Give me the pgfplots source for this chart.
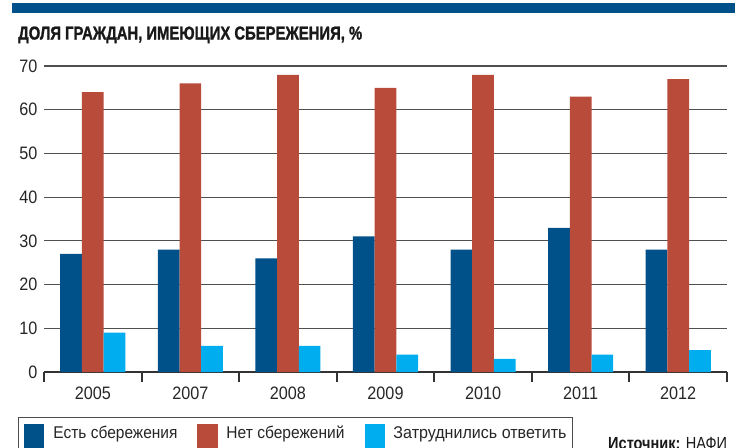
\documentclass[border=0pt]{standalone}
\usepackage{pgfplots}
\pgfplotsset{compat=1.18}
\usepackage{fontspec}
\setmainfont{Liberation Sans}
\newfontfamily\condfont[FakeStretch=0.9]{Liberation Sans}
\newfontfamily\titlefont[FakeBold=1.5]{Liberation Sans Bold}
\definecolor{cblue}{RGB}{0,81,137}
\definecolor{cred}{RGB}{185,75,58}
\definecolor{ccyan}{RGB}{0,174,239}
\definecolor{gridc}{RGB}{80,80,80}
\begin{document}
\begin{tikzpicture}
\clip (0pt,0pt) rectangle (735pt,-447pt);
\useasboundingbox (0pt,0pt) rectangle (735pt,-447pt);
\fill[cblue] (12pt,-2.7pt) rectangle (735pt,-12.7pt);
\node[anchor=base west, inner sep=0pt, text=black!90] at (18pt,-39.5pt) {\resizebox{344pt}{13pt}{\titlefont ДОЛЯ ГРАЖДАН, ИМЕЮЩИХ СБЕРЕЖЕНИЯ, \%}};
\begin{axis}[
  at={(44pt,-372pt)}, anchor=south west,
  scale only axis, width=683pt, height=306pt,
  xmin=-0.5, xmax=6.5, ymin=0, ymax=70,
  enlarge x limits=false,
  ybar=0pt, bar width=21.7pt,
  axis x line=bottom, axis y line=left,
  x axis line style={-, line width=2pt, draw=black!80},
  y axis line style={draw=none},
  tick align=outside, major tick length=10pt,
  xtick={-0.5,0.5,1.5,2.5,3.5,4.5,5.5,6.5},
  xticklabels={2005,2007,2008,2009,2010,2011,2012},
  x tick label as interval,
  xtick style={line width=2pt, draw=black!80},
  ytick={0,10,...,70},
  ytick style={draw=none},
  ymajorgrids,
  major grid style={gridc, line width=1.2pt},
  /pgf/number format/assume math mode=true,
  tick label style={font=\condfont\fontsize{18}{20}\selectfont, text=black!85},
  yticklabel style={anchor=east, inner sep=0pt, xshift=3.5pt},
  xticklabel style={anchor=north, inner sep=0pt, yshift=-5pt},
  legend columns=3,
  legend image code/.code={\fill[#1] (0pt,-20pt) rectangle (20pt,15pt);},
  legend style={at={(-0.03807,-0.14706)}, anchor=north west,
    draw=black!70, line width=1pt, inner xsep=6pt, inner ysep=6pt,
    font=\fontsize{17}{20}\selectfont, text=black!85,
    nodes={inner sep=0pt, anchor=base west},
    /tikz/every odd column/.append style={column sep=9pt},
    /tikz/every even column/.append style={column sep=20pt}},
]
\addplot[fill=cblue, draw=none] coordinates {(0,27) (1,28) (2,26) (3,31) (4,28) (5,33) (6,28)};
\addlegendentry{\resizebox{124pt}{\height}{Есть сбережения}}
\addplot[fill=cred, draw=none] coordinates {(0,64) (1,66) (2,68) (3,65) (4,68) (5,63) (6,67)};
\addlegendentry{\resizebox{118pt}{\height}{Нет сбережений}}
\addplot[fill=ccyan, draw=none] coordinates {(0,9) (1,6) (2,6) (3,4) (4,3) (5,4) (6,5)};
\addlegendentry{\resizebox{173pt}{\height}{Затруднились ответить}}
\end{axis}
\node[anchor=base west, inner sep=0pt, text=black!90] at (608pt,-449pt) {\resizebox{119pt}{\height}{\fontsize{17.5}{20}\selectfont\textbf{Источник:} НАФИ}};
\end{tikzpicture}
\end{document}
